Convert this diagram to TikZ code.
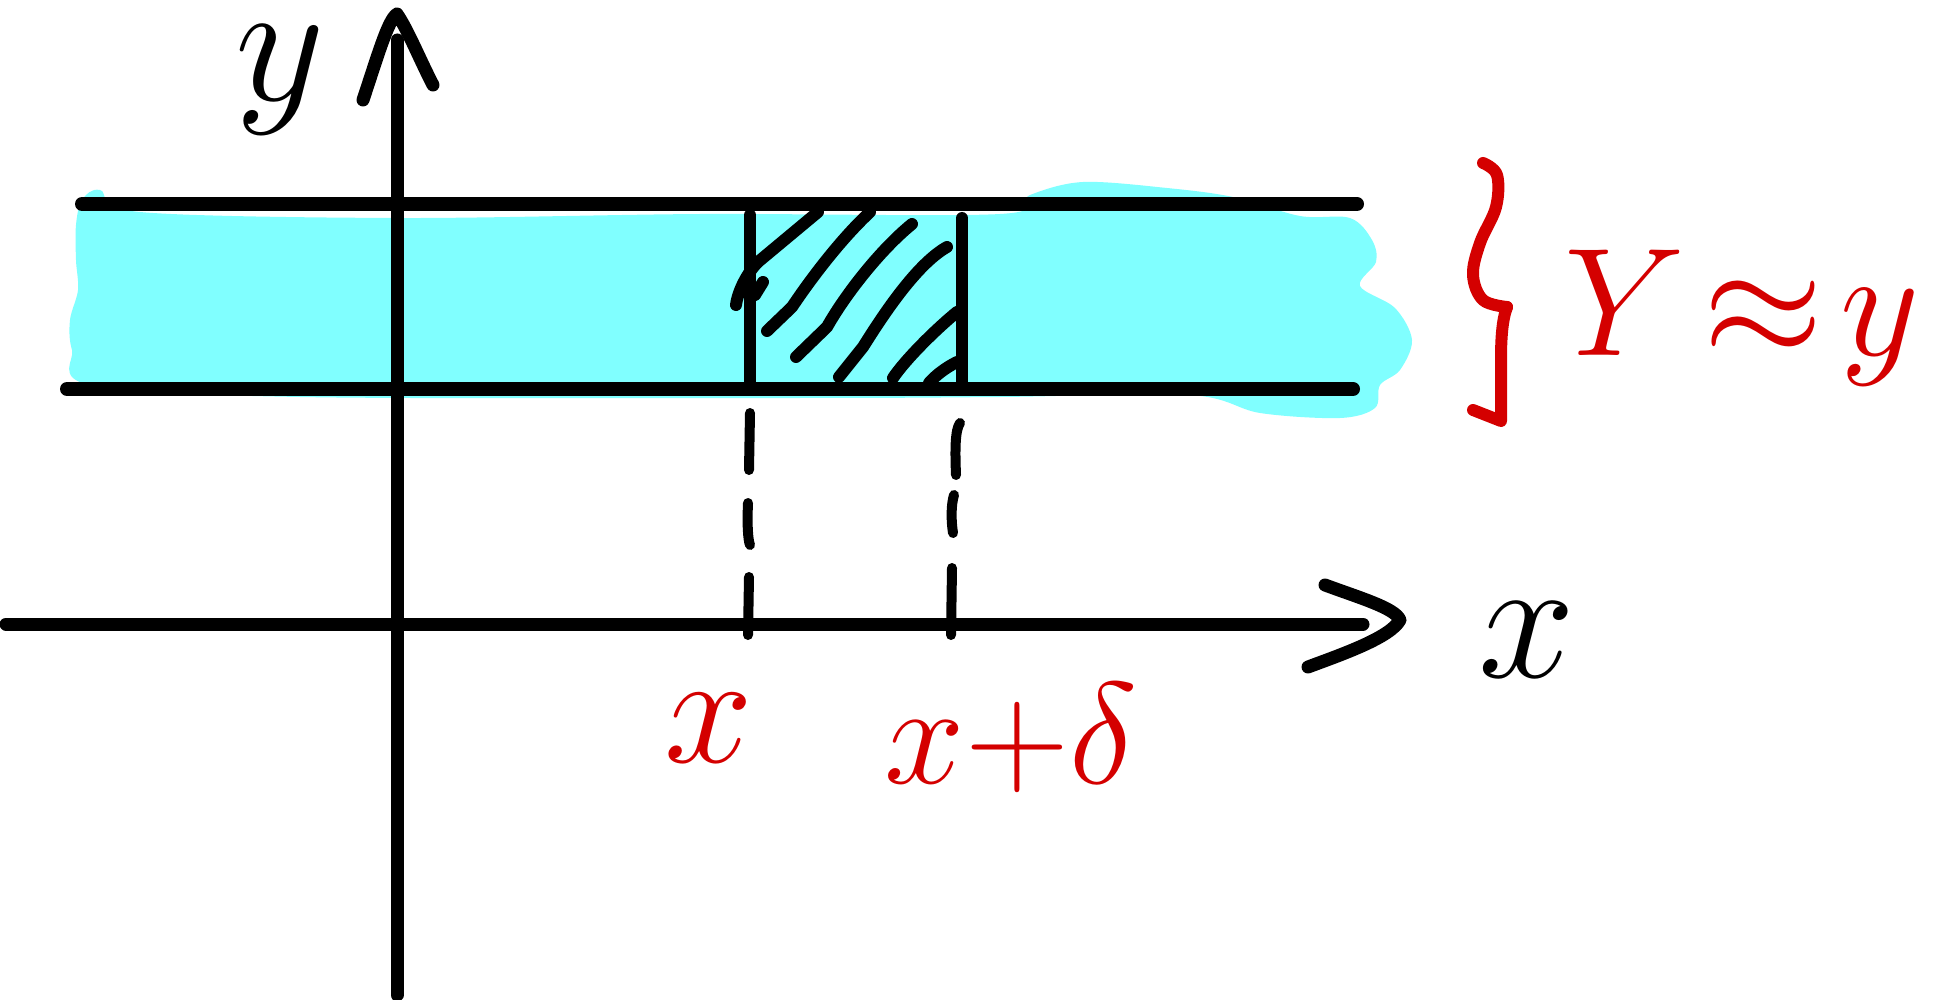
\documentclass[tikz,border=0pt]{standalone}
\usepackage{tikz}
\definecolor{inkred}{RGB}{212,0,0}
\definecolor{fillcyan}{RGB}{128,255,255}
\begin{document}
\begin{tikzpicture}[x=0.5pt,y=-0.5pt,
  axis/.style={line width=6.5pt,line cap=round,line join=round},
  band/.style={line width=7pt,line cap=round},
  stripe/.style={line width=6pt,line cap=round},
  hatchline/.style={line width=6pt,line cap=round,line join=round},
  dashpiece/.style={line width=5pt,line cap=round},
  redink/.style={draw=inkred,line width=6pt,line cap=round,line join=round},
  lab/.style={font=\Huge,inner sep=2pt}]
\useasboundingbox (0,0) rectangle (1934,1000);

% cyan region
\fill[fillcyan] plot[smooth cycle,tension=0.55] coordinates {
  (100,190) (140,212) (400,218) (700,214) (1000,214) (1030,195) (1083,182)
  (1167,188) (1233,197) (1300,216) (1350,218) (1372,240) (1376,262) (1360,286)
  (1395,308) (1412,340) (1400,370) (1380,385) (1375,408) (1340,418) (1260,413)
  (1190,395) (1000,397) (800,398) (300,397) (90,385) (72,350) (70,320)
  (78,290) (76,260) (76,225) (82,200)};

% axes
\coordinate (yb) at (397,995);
\coordinate (yt) at (397,40);
\coordinate (xl) at (6,624);
\coordinate (xr) at (1363,624);
\draw[axis] (yb) -- (yt);
\draw[axis] (xl) -- (xr);
\draw[axis] (363,100) .. controls (378,55) and (388,20) .. (397,14)
  .. controls (408,30) and (420,60) .. (433,85);
\draw[axis] (1325,585) .. controls (1360,598) and (1395,608) .. (1400,620)
  .. controls (1390,638) and (1340,655) .. (1308,667);

% horizontal band lines
\coordinate (tl) at (82,204);  \coordinate (tr) at (1357,204);
\coordinate (bl) at (67,389);  \coordinate (br) at (1353,389);
\draw[band] (tl) -- (tr);
\draw[band] (bl) -- (br);

% strip
\coordinate (s1t) at (750,215); \coordinate (s1b) at (750,389);
\coordinate (s2t) at (962,218); \coordinate (s2b) at (962,389);
\draw[stripe] (s1t) -- (s1b);
\draw[stripe] (s2t) -- (s2b);

% hatching
\draw[hatchline] (818,212) -- (758,262) .. controls (745,275) and (737,295) .. (736,305);
\draw[hatchline] (763,282) -- (755,295);
\draw[hatchline] (870,212) .. controls (840,240) and (810,280) .. (792,307) -- (767,331);
\draw[hatchline] (912,224) .. controls (880,250) and (845,295) .. (827,327) -- (796,357);
\draw[hatchline] (947,247) .. controls (915,265) and (880,320) .. (863,347) -- (839,377);
\draw[hatchline] (957,312) .. controls (935,330) and (905,360) .. (893,378);
\draw[hatchline] (957,362) .. controls (945,368) and (935,376) .. (929,383);

% dashed drop lines
\draw[dashpiece] (750,413) -- (749,470);
\draw[dashpiece] (748,503) .. controls (747,525) and (748,540) .. (750,545);
\draw[dashpiece] (749,577) -- (748,635);
\draw[dashpiece] (960,423) .. controls (955,430) and (955,450) .. (956,475);
\draw[dashpiece] (954,495) .. controls (951,505) and (951,520) .. (953,533);
\draw[dashpiece] (952,568) -- (951,635);

% brace
\draw[redink] plot[smooth,tension=0.6] coordinates {(1483,163) (1497,175) (1496,207) (1480,243) (1473,275) (1483,300) (1507,307)};
\draw[redink] (1507,307) .. controls (1502,320) and (1501,340) .. (1501,360) -- (1501,421) -- (1473,410);

% labels
\node[lab,scale=3.5] (ylab) at (280,80) {$y$};
\node[lab,scale=3.5] (xlab) at (1527,640) {$x$};
\node[lab,scale=3.2,text=inkred] (xpt) at (709,728) {$x$};
\node[lab,scale=2.9,text=inkred] (xdpt) at (1011,738) {$x{+}\delta$};
\node[lab,scale=3.1,text=inkred] (approx) at (1742,318) {$Y\!\approx\!y$};
\end{tikzpicture}
\end{document}
